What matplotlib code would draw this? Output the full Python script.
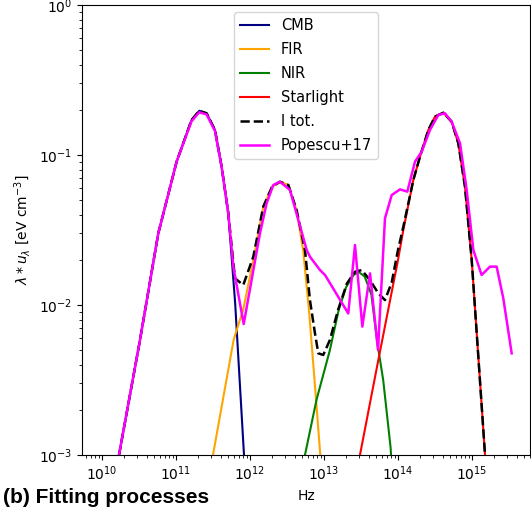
import numpy as np
import matplotlib
matplotlib.use("Agg")
import matplotlib.pyplot as plt

# values, stored as log10(Hz) and log10(eV cm^-3)
cmb_lognu = [10.1, 10.234, 10.514, 10.761, 11.009, 11.21, 11.315, 11.414, 11.527,
             11.617, 11.707, 11.8, 11.918, 11.96]
cmb_logu = [-3.35, -2.99, -2.233, -1.522, -1.044, -0.767, -0.705, -0.722, -0.833,
            -1.078, -1.389, -1.99, -2.99, -3.4]

fir_lognu = [11.45, 11.5, 11.78, 11.909, 12.045, 12.18, 12.3, 12.415, 12.52,
             12.63, 12.72, 12.8, 12.88, 12.95, 12.99]
fir_logu = [-3.12, -3.0, -2.23, -2.03, -1.70, -1.344, -1.21, -1.18, -1.2,
            -1.37, -1.64, -2.05, -2.55, -3.0, -3.25]

nir_lognu = [12.7, 12.743, 12.9, 13.08, 13.2, 13.3, 13.4, 13.47, 13.55,
             13.64, 13.72, 13.8, 13.9, 13.93]
nir_logu = [-3.15, -3.0, -2.63, -2.3, -2.03, -1.88, -1.8, -1.78, -1.81,
            -1.93, -2.25, -2.5, -2.95, -3.2]

star_lognu = [13.4, 13.486, 13.734, 14.0, 14.072, 14.207, 14.297, 14.41, 14.5,
              14.613, 14.725, 14.815, 14.905, 14.996, 15.1, 15.176, 15.22]
star_logu = [-3.22, -3.0, -2.367, -1.7, -1.5, -1.167, -1.011, -0.833, -0.744,
             -0.718, -0.778, -0.922, -1.211, -1.7, -2.45, -3.0, -3.35]

tot_lognu = [10.1, 10.234, 10.514, 10.761, 11.009, 11.21, 11.315, 11.414, 11.527,
             11.617, 11.707, 11.797, 11.909, 12.045, 12.18, 12.3, 12.405, 12.518,
             12.63, 12.743, 12.81, 12.878, 12.923, 12.99, 13.08, 13.19, 13.31,
             13.42, 13.51, 13.62, 13.734, 13.824, 13.915, 14.0, 14.072, 14.207,
             14.297, 14.41, 14.5, 14.613, 14.725, 14.815, 14.905, 14.996, 15.1,
             15.176, 15.22]
tot_logu = [-3.35, -2.99, -2.233, -1.522, -1.044, -0.767, -0.705, -0.722, -0.833,
            -1.078, -1.389, -1.822, -1.867, -1.678, -1.344, -1.21, -1.178, -1.2,
            -1.367, -1.633, -1.967, -2.189, -2.322, -2.333, -2.233, -2.033, -1.856,
            -1.778, -1.767, -1.833, -1.922, -1.967, -1.85, -1.633, -1.478, -1.167,
            -1.011, -0.833, -0.744, -0.718, -0.778, -0.922, -1.211, -1.7, -2.45,
            -3.0, -3.4]

pop_lognu = [10.2, 10.514, 10.761, 11.009, 11.21, 11.315, 11.414, 11.527, 11.617,
             11.707, 11.775, 11.915, 12.135, 12.225, 12.315, 12.405, 12.54, 12.653,
             12.766, 12.81, 12.946, 13.014, 13.328, 13.419, 13.518, 13.622, 13.73,
             13.824, 13.915, 14.027, 14.126, 14.23, 14.32, 14.432, 14.545, 14.635,
             14.725, 14.838, 14.928, 15.018, 15.13, 15.243, 15.333, 15.423, 15.536]
pop_logu = [-3.08, -2.233, -1.522, -1.044, -0.775, -0.715, -0.73, -0.84, -1.08,
            -1.389, -1.744, -2.127, -1.522, -1.322, -1.2, -1.178, -1.233, -1.433,
            -1.633, -1.678, -1.767, -1.8, -2.056, -1.6, -2.144, -1.789, -2.3,
            -1.422, -1.267, -1.229, -1.244, -1.044, -0.978, -0.833, -0.733, -0.722,
            -0.778, -0.922, -1.233, -1.633, -1.8, -1.744, -1.744, -1.956, -2.322]


def lin(a):
    return 10 ** np.array(a)


fig = plt.figure(figsize=(5.31, 5.12), dpi=100)
ax = fig.add_axes([0.1544, 0.1113, 0.8446, 0.8789])

ax.plot(lin(cmb_lognu), lin(cmb_logu), color="navy", lw=1.5, label="CMB")
ax.plot(lin(fir_lognu), lin(fir_logu), color="orange", lw=1.5, label="FIR")
ax.plot(lin(nir_lognu), lin(nir_logu), color="green", lw=1.5, label="NIR")
ax.plot(lin(star_lognu), lin(star_logu), color="red", lw=1.5, label="Starlight")
ax.plot(lin(tot_lognu), lin(tot_logu), "k--", lw=1.8, label="I tot.")
ax.plot(lin(pop_lognu), lin(pop_logu), color="magenta", lw=1.8, label="Popescu+17")

ax.set_xscale("log")
ax.set_yscale("log")
ax.set_xlim(10 ** 9.73, 10 ** 15.79)
ax.set_ylim(1e-3, 1e0)
ax.set_xlabel("Hz")
ax.set_ylabel(r"$\lambda * u_\lambda$ [eV cm$^{-3}$]")
ax.legend(loc="upper center", fontsize=10.5, labelspacing=0.62)

fig.text(0.006, 0.029, "(b) Fitting processes", fontweight="bold", fontsize=15,
         family="Liberation Sans", va="center")

fig.savefig("out.png", dpi=100)
